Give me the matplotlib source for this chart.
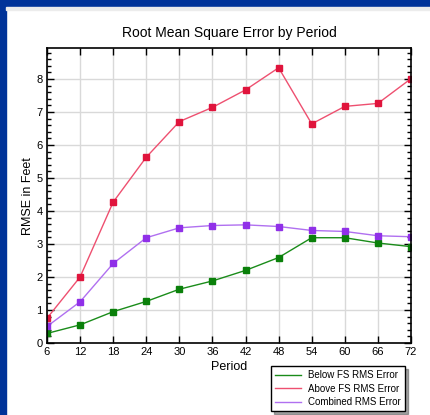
import matplotlib.pyplot as plt
from matplotlib.patches import Rectangle
from matplotlib.ticker import MultipleLocator

plt.rcParams['font.family'] = ['Liberation Sans', 'DejaVu Sans']

# Data
periods = [6, 12, 18, 24, 30, 36, 42, 48, 54, 60, 66, 72]
below_fs = [0.29, 0.55, 0.95, 1.26, 1.63, 1.88, 2.2, 2.59, 3.19, 3.19, 3.03, 2.92]
above_fs = [0.75, 2.0, 4.27, 5.63, 6.71, 7.14, 7.67, 8.34, 6.64, 7.17, 7.26, 8.01]
combined = [0.5, 1.25, 2.41, 3.19, 3.49, 3.56, 3.58, 3.53, 3.41, 3.38, 3.25, 3.22]

fig = plt.figure(figsize=(4.3, 4.15), dpi=100)
fig.patch.set_facecolor('white')

# blue frame on the left and top, thin gray strip under it
fig.patches.append(Rectangle((0, 0), 6 / 430, 1, transform=fig.transFigure,
                             color='#003399', zorder=0))
fig.patches.append(Rectangle((0, 1 - 7 / 415), 1, 7 / 415, transform=fig.transFigure,
                             color='#003399', zorder=0))
fig.patches.append(Rectangle((6 / 430, 1 - 10 / 415), 1, 3 / 415, transform=fig.transFigure,
                             color='#ececec', zorder=0))

ax = fig.add_axes([47 / 430, 72 / 415, 364 / 430, 294.7 / 415])

ax.plot(periods, below_fs, color='#1a8c1a', lw=1, marker='s', ms=5,
        mfc='#0a800a', mec='#0a800a', label='Below FS RMS Error')
ax.plot(periods, above_fs, color='#ee5070', lw=1, marker='s', ms=5,
        mfc='#e0143c', mec='#e0143c', label='Above FS RMS Error')
ax.plot(periods, combined, color='#b070f0', lw=1, marker='s', ms=5,
        mfc='#9030e8', mec='#9030e8', label='Combined RMS Error')

ax.set_xlim(6, 72)
ax.set_ylim(0, 8.93)
ax.set_xticks(periods)
ax.yaxis.set_major_locator(MultipleLocator(1))
ax.yaxis.set_minor_locator(MultipleLocator(0.2))
ax.grid(True, which='major', color='#d9d9d9', lw=1)
ax.set_axisbelow(True)

ax.tick_params(which='major', direction='in', length=5, width=1,
               top=True, right=True, labelsize=8, pad=3)
ax.tick_params(which='minor', direction='in', length=3, width=1,
               left=True, right=True)
for s in ax.spines.values():
    s.set_linewidth(1.2)

ax.set_title('Root Mean Square Error by Period', fontsize=10, pad=8)
ax.set_xlabel('Period', fontsize=9, labelpad=3)
ax.set_ylabel('RMSE in Feet', fontsize=9, labelpad=2)

leg = fig.legend(loc='upper left', bbox_to_anchor=(266 / 430, 1 - 361 / 415),
                 fontsize=7, frameon=True, fancybox=False, shadow=True,
                 handlelength=2.6, borderpad=0.45, labelspacing=0.35,
                 handletextpad=0.8)
leg.get_frame().set_edgecolor('black')
leg.get_frame().set_linewidth(1)
for h in leg.legend_handles:
    h.set_marker('')

fig.savefig('out.png', dpi=100)
